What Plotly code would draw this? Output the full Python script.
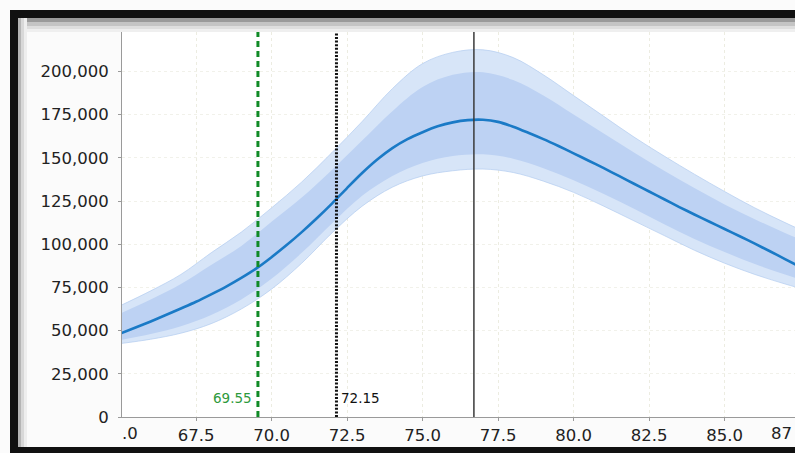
import plotly.graph_objects as go

# ---------------- data ----------------
x_mean = [65.0, 65.5, 66.0, 66.5, 67.0, 67.5, 68.0, 68.5, 69.0, 69.5,
          70.0, 70.5, 71.0, 71.5, 72.0, 72.5, 73.0, 73.5, 74.0, 74.5,
          75.0, 75.5, 76.0, 76.5, 77.0, 77.5, 78.0, 78.5, 79.0, 79.5,
          80.0, 80.5, 81.0, 81.5, 82.0, 82.5, 83.0, 83.5, 84.0, 84.5,
          85.0, 85.5, 86.0, 86.5, 87.0, 87.5]
mean_vals = [48300, 51800, 55300, 59000, 62800, 66700, 71000, 75500, 80500, 86000,
             92500, 99500, 107000, 115000, 123500, 132500, 141200, 149000, 155600, 160800,
             164800, 168200, 170500, 171800, 172000, 170800, 168000, 164500, 160800, 156800,
             152600, 148300, 144000, 139500, 135000, 130500, 126000, 121500, 117200, 113000,
             108800, 104600, 100300, 95900, 91400, 86800]

x_band = [65, 66, 67, 68, 69, 70, 71, 72, 73, 74, 75, 76,
          77, 78, 79, 80, 81, 82, 83, 84, 85, 86, 87, 88]
outer_upper = [64500, 73000, 82500, 95000, 107000, 121000, 136000, 153000, 171000, 190000, 204500, 211000,
               212500, 208000, 198000, 186000, 174000, 162000, 151000, 140500, 130500, 121000, 112500, 104500]
outer_lower = [42500, 45000, 48500, 54000, 62500, 74000, 89000, 106500, 122000, 133000, 139500, 142500,
               143500, 141500, 136500, 130000, 122000, 113500, 105000, 96500, 89000, 82500, 77000, 72000]
inner_upper = [60000, 68000, 77000, 88000, 99000, 113000, 127000, 143000, 160000, 177000, 191000, 198000,
               199500, 195000, 186000, 175000, 164000, 153000, 142500, 132500, 123000, 114500, 106500, 99000]
inner_lower = [44500, 48000, 52500, 59000, 68000, 80000, 95000, 112000, 128000, 139500, 147000, 151000,
               152000, 149500, 144000, 137000, 129000, 120500, 111500, 103000, 95500, 88500, 82500, 77000]

marker_x = [69.55, 72.15, 76.7]
marker_labels = ["69.55", "72.15"]

x_ticks = [65.0, 67.5, 70.0, 72.5, 75.0, 77.5, 80.0, 82.5, 85.0, 87.5]
y_ticks = [0, 25000, 50000, 75000, 100000, 125000, 150000, 175000, 200000]

# ---------------- geometry ----------------
W, H = 795, 453
L, R, T, B = 122, 0, 32, 36
PW, PH = W - L - R, H - T - B


def px(xp):
    return (xp - L) / PW


def py(yp):
    return (H - B - yp) / PH


fig = go.Figure()

# outer (sparse) band
fig.add_trace(go.Scatter(x=x_band, y=outer_upper, mode="lines", line=dict(width=0.8, color="rgba(180,205,240,0.9)", shape="spline"),
                         hoverinfo="skip", showlegend=False))
fig.add_trace(go.Scatter(x=x_band, y=outer_lower, mode="lines", line=dict(width=0.8, color="rgba(180,205,240,0.9)", shape="spline"),
                         fill="tonexty", fillcolor="rgb(215,229,248)", hoverinfo="skip", showlegend=False))
# inner (dense) band
fig.add_trace(go.Scatter(x=x_band, y=inner_upper, mode="lines", line=dict(width=0, shape="spline"),
                         hoverinfo="skip", showlegend=False))
fig.add_trace(go.Scatter(x=x_band, y=inner_lower, mode="lines", line=dict(width=0, shape="spline"),
                         fill="tonexty", fillcolor="rgb(189,210,243)", hoverinfo="skip", showlegend=False))
# mean line
fig.add_trace(go.Scatter(x=x_mean, y=mean_vals, mode="lines", line=dict(width=2.6, color="#1a7ac6", shape="spline", smoothing=0.8),
                         showlegend=False))

shapes = []
# vertical marker lines
shapes.append(dict(type="line", xref="x", yref="paper", x0=marker_x[0], x1=marker_x[0], y0=0, y1=1,
                   line=dict(color="#0f8a26", width=3, dash="6px,4px"), layer="above"))
shapes.append(dict(type="line", xref="x", yref="paper", x0=marker_x[1], x1=marker_x[1], y0=0, y1=1,
                   line=dict(color="#111111", width=3, dash="2px,1.6px"), layer="above"))
shapes.append(dict(type="line", xref="x", yref="paper", x0=marker_x[2], x1=marker_x[2], y0=0, y1=1,
                   line=dict(color="#3a3a3a", width=1.5), layer="above"))

# window frame
frame = [
    (10, 10, W, 18, "#111111"),        # top black band
    (10, 10, 18, H, "#111111"),        # left black band
    (10, 447, W, H, "#111111"),        # bottom black band
    (18, 18, W, 22, "#9a9a9a"),
    (18, 22, W, 26, "#c4c4c4"),
    (18, 26, W, 29, "#dedede"),
    (18, 29, W, 32, "#efefef"),
    (18, 18, 21, 447, "#b5b5b5"),
    (21, 18, 24, 447, "#d8d8d8"),
    (24, 18, 27, 447, "#eeeeee"),
]
for x0, y0, x1, y1, c in frame:
    shapes.append(dict(type="rect", xref="paper", yref="paper", x0=px(x0), x1=px(x1), y0=py(y1), y1=py(y0),
                       fillcolor=c, line=dict(width=0), layer="above"))

annotations = [
    dict(x=marker_x[0], y=0.05, xref="x", yref="paper", text=marker_labels[0], showarrow=False,
         xanchor="right", yanchor="middle", xshift=-4, font=dict(size=13.5, color="#2e9a3c", family="DejaVu Sans")),
    dict(x=marker_x[1], y=0.05, xref="x", yref="paper", text=marker_labels[1], showarrow=False,
         xanchor="left", yanchor="middle", xshift=3, font=dict(size=13.5, color="#111111", family="DejaVu Sans")),
    # clipped tick labels at the edges
    dict(x=px(140), y=py(433), xref="paper", yref="paper", text=".0", showarrow=False,
         xanchor="right", yanchor="middle", font=dict(size=16.5, color="#222222", family="DejaVu Sans")),
    dict(x=px(794), y=py(433), xref="paper", yref="paper", text="87", showarrow=False,
         xanchor="right", yanchor="middle", font=dict(size=16.5, color="#222222", family="DejaVu Sans")),
]

fig.update_layout(
    width=W, height=H,
    margin=dict(l=L, r=R, t=T, b=B, pad=0),
    paper_bgcolor="#fbfbfb",
    plot_bgcolor="white",
    shapes=shapes,
    annotations=annotations,
    showlegend=False,
    font=dict(family="DejaVu Sans", size=16.5, color="#222222"),
)
fig.update_xaxes(
    range=[65.05, 87.33], tickvals=x_ticks, ticktext=[f"{v:.1f}" for v in x_ticks],
    showline=True, linecolor="#9a9a9a", linewidth=1, mirror="ticks",
    ticks="outside", ticklen=3, tickcolor="#9a9a9a",
    showgrid=True, gridcolor="rgba(200,200,170,0.35)", griddash="dot", gridwidth=1,
    zeroline=False, tickfont=dict(size=16.5, color="#222222"),
)
fig.update_yaxes(
    range=[0, 222800], tickvals=y_ticks, tickformat=",d",
    showline=True, linecolor="#9a9a9a", linewidth=1,
    ticks="outside", ticklen=3, tickcolor="#9a9a9a", ticklabelstandoff=6,
    showgrid=True, gridcolor="rgba(200,200,170,0.25)", griddash="dot", gridwidth=1,
    zeroline=False, tickfont=dict(size=16.5, color="#222222"),
)

fig.write_html("out.html", config={"displayModeBar": False},
               post_script=("document.documentElement.style.overflow='hidden';"
                            "document.body.style.margin='0';document.body.style.overflow='hidden';"))
